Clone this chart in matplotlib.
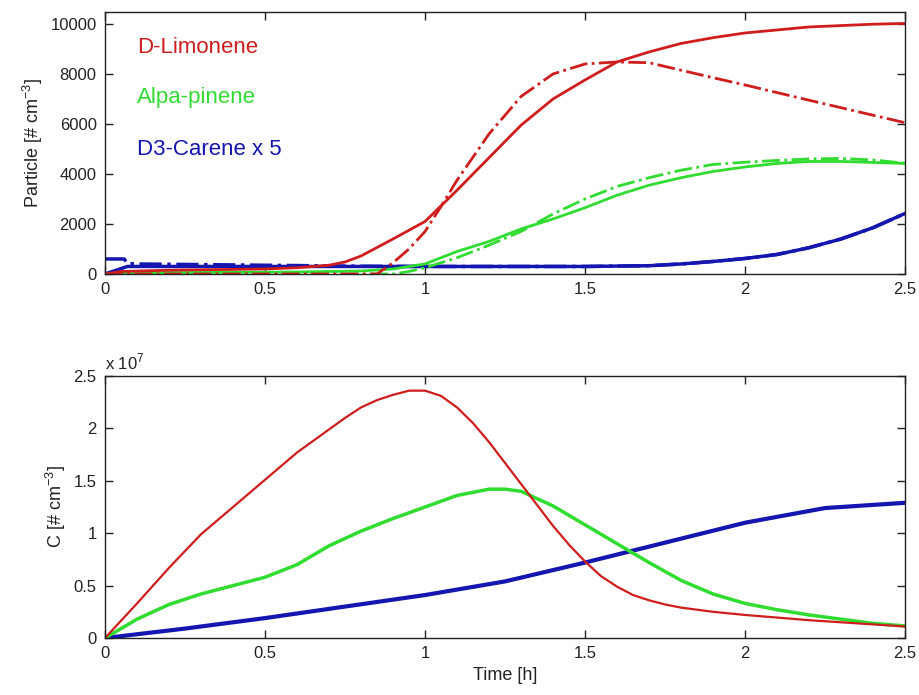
import numpy as np
import matplotlib
matplotlib.use("Agg")
import matplotlib.pyplot as plt
from matplotlib.ticker import FuncFormatter

plt.rcParams['font.family'] = ['Liberation Sans', 'DejaVu Sans']
plt.rcParams['mathtext.fontset'] = 'custom'
plt.rcParams['mathtext.rm'] = 'Liberation Sans'

RED = '#cf1d1d'
GREEN = '#30dc30'
BLUE = '#1515b0'

# Particle number, measured (solid) and model (dash-dot)
t_lim = [0, 0.05, 0.2, 0.5, 0.6, 0.7, 0.75, 0.8, 0.9, 1.0, 1.1, 1.2, 1.3, 1.4, 1.5,
         1.6, 1.7, 1.8, 1.9, 2.0, 2.2, 2.4, 2.5]
p_lim = [0, 100, 150, 200, 250, 350, 480, 720, 1400, 2100, 3350, 4650, 5950, 7000, 7760,
         8480, 8880, 9220, 9450, 9640, 9880, 9990, 10020]
t_lim_m = [0, 0.85, 0.9, 0.95, 1.0, 1.05, 1.1, 1.2, 1.3, 1.4, 1.5, 1.6, 1.7, 1.8, 1.9,
           2.0, 2.2, 2.4, 2.5]
p_lim_m = [0, 0, 450, 1000, 1700, 2700, 3750, 5600, 7100, 8000, 8400, 8480, 8450, 8150,
           7850, 7560, 6950, 6350, 6050]

t_pin = [0, 0.05, 0.3, 0.6, 0.8, 0.9, 1.0, 1.1, 1.2, 1.3, 1.4, 1.5, 1.6, 1.7, 1.8, 1.9,
         2.0, 2.1, 2.2, 2.3, 2.4, 2.5]
p_pin = [0, 50, 60, 80, 120, 200, 400, 900, 1300, 1800, 2200, 2650, 3150, 3550, 3850,
         4100, 4280, 4420, 4500, 4500, 4460, 4420]
t_pin_m = [0, 0.9, 0.95, 1.0, 1.1, 1.2, 1.3, 1.4, 1.5, 1.6, 1.7, 1.8, 1.9, 2.0, 2.1, 2.2,
           2.3, 2.4, 2.5]
p_pin_m = [0, 0, 100, 250, 650, 1150, 1700, 2400, 3000, 3500, 3850, 4150, 4380, 4470,
           4540, 4600, 4620, 4560, 4430]

t_car = [0, 0.07, 0.5, 1.0, 1.5, 1.7, 1.8, 1.9, 2.0, 2.1, 2.2, 2.3, 2.4, 2.5]
p_car = [0, 300, 300, 300, 300, 330, 400, 500, 620, 780, 1050, 1400, 1850, 2420]
t_car_m = [0, 0.06, 0.07, 0.1, 0.5, 0.8, 1.0, 1.5, 1.7, 1.8, 1.9, 2.0, 2.1, 2.2, 2.3,
           2.4, 2.5]
p_car_m = [600, 600, 420, 400, 350, 310, 300, 300, 330, 400, 500, 620, 780, 1050, 1400,
           1850, 2420]

# Concentration C [1e7 # cm^-3]
t_c = [0, 0.1, 0.15, 0.2, 0.25, 0.3, 0.35, 0.4, 0.45, 0.5, 0.55, 0.6, 0.65, 0.7, 0.75,
       0.8, 0.85, 0.9, 0.95, 1.0, 1.05, 1.1, 1.15, 1.2, 1.25, 1.3, 1.35, 1.4, 1.45, 1.5,
       1.55, 1.6, 1.65, 1.7, 1.75, 1.8, 1.9, 2.0, 2.2, 2.4, 2.5]
c_lim = [0, 0.33, 0.5, 0.67, 0.83, 0.99, 1.12, 1.25, 1.38, 1.51, 1.64, 1.77, 1.88, 1.99,
         2.1, 2.2, 2.27, 2.32, 2.36, 2.36, 2.31, 2.2, 2.05, 1.87, 1.67, 1.47, 1.27, 1.07,
         0.89, 0.73, 0.59, 0.49, 0.41, 0.36, 0.32, 0.29, 0.25, 0.22, 0.17, 0.13, 0.11]
t_c2 = [0, 0.1, 0.2, 0.3, 0.4, 0.5, 0.6, 0.7, 0.8, 0.9, 1.0, 1.1, 1.2, 1.25, 1.3, 1.4,
        1.5, 1.6, 1.7, 1.8, 1.9, 2.0, 2.1, 2.2, 2.3, 2.4, 2.5]
c_pin = [0, 0.18, 0.32, 0.42, 0.5, 0.58, 0.7, 0.88, 1.02, 1.14, 1.25, 1.36, 1.42, 1.42,
         1.40, 1.26, 1.08, 0.9, 0.72, 0.55, 0.42, 0.33, 0.27, 0.22, 0.18, 0.14, 0.115]
t_c3 = [0, 0.25, 0.5, 0.75, 1.0, 1.25, 1.5, 1.75, 2.0, 2.25, 2.5]
c_car = [0, 0.09, 0.19, 0.3, 0.41, 0.54, 0.72, 0.91, 1.10, 1.24, 1.29]

scale = 1e7
xticks = [0, 0.5, 1, 1.5, 2, 2.5]


def style_axes(ax):
    ax.set_xlim(0, 2.5)
    ax.set_xticks(xticks)
    ax.xaxis.set_major_formatter(FuncFormatter(lambda v, p: '%g' % v))
    ax.tick_params(direction='in', top=True, right=True, length=6, width=1,
                   labelsize=12, colors='#222222', pad=6)
    for s in ax.spines.values():
        s.set_color('#222222')
        s.set_linewidth(1)


fig = plt.figure(figsize=(9.19, 6.95), dpi=100)
ax1 = fig.add_axes([0.1143, 0.6058, 0.8705, 0.3770])
ax2 = fig.add_axes([0.1143, 0.0820, 0.8705, 0.3770])

# Top panel: particle numbers
ax1.plot(t_car_m, p_car_m, '-.', color=BLUE, lw=2.5)
ax1.plot(t_car, p_car, '-', color=BLUE, lw=2.5)
ax1.plot(t_pin_m, p_pin_m, '-.', color=GREEN, lw=2)
ax1.plot(t_pin, p_pin, '-', color=GREEN, lw=2)
ax1.plot(t_lim_m, p_lim_m, '-.', color=RED, lw=2)
ax1.plot(t_lim, p_lim, '-', color=RED, lw=2)
ax1.set_ylim(0, 10480)
ax1.set_yticks([0, 2000, 4000, 6000, 8000, 10000])
ax1.set_ylabel(r'Particle [# cm$^{-3}$]', fontsize=13, color='#222222')
style_axes(ax1)

ax1.text(0.1, 9040, 'D-Limonene', color=RED, fontsize=16, va='center')
ax1.text(0.1, 7040, 'Alpa-pinene', color=GREEN, fontsize=16, va='center')
ax1.text(0.1, 4960, 'D3-Carene x 5', color=BLUE, fontsize=16, va='center')

# Bottom panel: concentrations
ax2.plot(t_c3, np.array(c_car) * scale, '-', color=BLUE, lw=3)
ax2.plot(t_c2, np.array(c_pin) * scale, '-', color=GREEN, lw=2.5)
ax2.plot(t_c, np.array(c_lim) * scale, '-', color=RED, lw=1.6)
ax2.set_ylim(0, 2.5 * scale)
ax2.set_yticks(np.arange(0, 2.51, 0.5) * scale)
ax2.yaxis.set_major_formatter(FuncFormatter(lambda v, p: '%g' % (v / scale)))
ax2.set_ylabel(r'C [# cm$^{-3}$]', fontsize=13, color='#222222')
ax2.set_xlabel('Time [h]', fontsize=13, color='#222222')
style_axes(ax2)
ax2.text(0.0, 1.015, r'x 10$^7$', transform=ax2.transAxes, fontsize=12,
         color='#222222', va='bottom', ha='left')

fig.savefig('out.png', dpi=100)
